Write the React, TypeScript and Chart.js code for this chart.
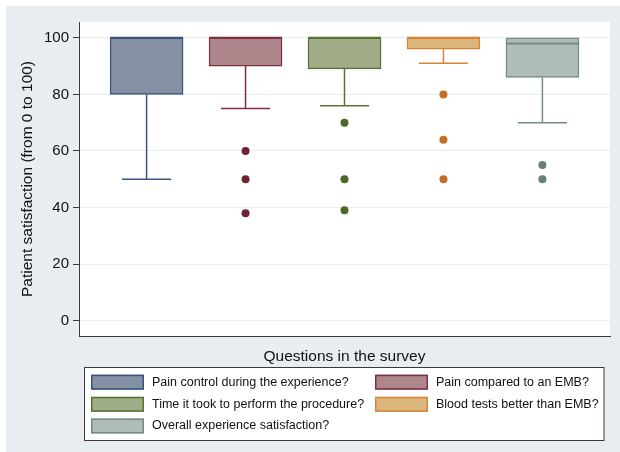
import React, { useEffect, useRef } from "react";
import { Chart, registerables } from "chart.js";

Chart.register(...registerables);

// ---- data ----
const questions = [
  "Pain control during the experience?",
  "Pain compared to an EMB?",
  "Time it took to perform the procedure?",
  "Blood tests better than EMB?",
  "Overall experience satisfaction?",
];
const positions = [1, 2, 3, 4, 5];
const q1Values = [80, 90, 89, 96, 86];
const medianValues = [100, 100, 100, 100, 98];
const q3Values = [100, 100, 100, 100, 100];
const lowerWhiskers = [50, 75, 76, 91, 70];
const outlierValues = [[], [60, 50, 38], [70, 50, 39], [80, 64, 50], [55, 50]];
const yTicks = [0, 20, 40, 60, 80, 100];

// ---- styles ----
const fillColors = ["#8491a4", "#ad878b", "#a1ad88", "#dcb57c", "#b0bcb6"];
const lineColors = ["#3d5080", "#7f3040", "#58742f", "#d98337", "#728d85"];
const dotColors = ["#3d5080", "#6d2331", "#4e6628", "#c76c25", "#667f77"];
const BOX_HALF = 0.369;
const CAP_HALF = 0.248;
const FONT = "'Liberation Sans', Arial, Helvetica, sans-serif";

const bgPlugin = {
  id: "stataBg",
  beforeDraw(chart: any) {
    const { ctx, width, height, chartArea } = chart;
    ctx.save();
    ctx.fillStyle = "#ffffff";
    ctx.fillRect(0, 0, width, height);
    ctx.fillStyle = "#e7edf0";
    ctx.fillRect(6, 6, width - 6, height - 6);
    ctx.fillStyle = "#ffffff";
    ctx.fillRect(chartArea.left, chartArea.top, chartArea.right - chartArea.left, chartArea.bottom - chartArea.top);
    ctx.restore();
  },
};

const legendPlugin = {
  id: "boxLegend",
  afterDraw(chart: any) {
    const { ctx } = chart;
    const items = chart.data.datasets.filter((d: any) => d.type === "bar");
    const box = { x: 84.5, y: 367.5, w: 519.5, h: 73 };
    ctx.save();
    ctx.fillStyle = "#ffffff";
    ctx.fillRect(box.x, box.y, box.w, box.h);
    ctx.strokeStyle = "#3a3a3a";
    ctx.lineWidth = 1;
    ctx.strokeRect(box.x, box.y, box.w, box.h);
    const colX = [91, 375];
    const rowY = [382.2, 404.3, 426];
    ctx.font = `12.5px ${FONT}`;
    ctx.textBaseline = "middle";
    ctx.textAlign = "left";
    items.forEach((d: any, i: number) => {
      const cx = colX[i % 2];
      const cy = rowY[Math.floor(i / 2)];
      ctx.fillStyle = d.backgroundColor;
      ctx.fillRect(cx, cy - 7.5, 53, 15);
      ctx.strokeStyle = d.borderColor;
      ctx.lineWidth = 1.5;
      ctx.strokeRect(cx + 0.75, cy - 6.75, 51.5, 13.5);
      ctx.fillStyle = "#111111";
      ctx.fillText(d.label, cx + 61, cy);
    });
    ctx.restore();
  },
};

export default function App() {
  const ref = useRef<HTMLCanvasElement | null>(null);

  useEffect(() => {
    if (!ref.current) return;
    const datasets: any[] = [];
    positions.forEach((p, i) => {
      datasets.push({
        type: "bar",
        label: questions[i],
        data: [{ x: p, y: [q1Values[i], q3Values[i]] }],
        backgroundColor: fillColors[i],
        borderColor: lineColors[i],
        borderWidth: 1.5,
        borderSkipped: false,
        barThickness: 73,
        grouped: false,
        order: 3,
      });
    });
    positions.forEach((p, i) => {
      const common = {
        type: "line",
        borderColor: lineColors[i],
        borderWidth: 1.5,
        pointRadius: 0,
        fill: false,
        order: 2,
      };
      datasets.push({
        ...common,
        label: "whisker",
        data: [
          { x: p, y: q1Values[i] },
          { x: p, y: lowerWhiskers[i] },
        ],
      });
      datasets.push({
        ...common,
        label: "cap",
        data: [
          { x: p - CAP_HALF, y: lowerWhiskers[i] },
          { x: p + CAP_HALF, y: lowerWhiskers[i] },
        ],
      });
      datasets.push({
        ...common,
        label: "median",
        borderWidth: 2,
        data: [
          { x: p - BOX_HALF, y: medianValues[i] },
          { x: p + BOX_HALF, y: medianValues[i] },
        ],
      });
      datasets.push({
        type: "scatter",
        label: "outliers",
        data: outlierValues[i].map((v) => ({ x: p, y: v })),
        backgroundColor: dotColors[i],
        borderColor: dotColors[i],
        borderWidth: 0,
        pointRadius: 4,
        order: 1,
      });
    });

    const chart = new Chart(ref.current, {
      type: "bar",
      data: { datasets },
      plugins: [bgPlugin, legendPlugin],
      options: {
        animation: false,
        responsive: false,
        devicePixelRatio: 1,
        layout: { padding: { left: 6, right: 10, top: 22, bottom: 86 } },
        plugins: { legend: { display: false }, tooltip: { enabled: false } },
        scales: {
          x: {
            type: "linear",
            min: 0.317,
            max: 5.683,
            offset: false,
            grid: { display: false },
            ticks: { display: false },
            border: { display: true, color: "#3a3a3a", width: 1 },
            title: {
              display: true,
              text: "Questions in the survey",
              color: "#111111",
              font: { family: FONT, size: 15.5 },
              padding: { top: 0, bottom: 0 },
            },
            afterFit: (s: any) => {
              s.height = 30;
            },
          },
          y: {
            type: "linear",
            min: -5.45,
            max: 105.6,
            afterBuildTicks: (s: any) => {
              s.ticks = yTicks.map((v) => ({ value: v }));
            },
            afterFit: (s: any) => {
              s.width = 73;
            },
            grid: {
              color: "#e6edf2",
              lineWidth: 1,
              tickLength: 6,
              tickColor: "#3a3a3a",
            },
            border: { display: true, color: "#3a3a3a", width: 1 },
            ticks: {
              color: "#111111",
              padding: 4,
              font: { family: FONT, size: 15 },
            },
            title: {
              display: true,
              text: "Patient satisfaction (from 0 to 100)",
              color: "#111111",
              font: { family: FONT, size: 15.5 },
              padding: { top: 12, bottom: 0 },
            },
          },
        },
      } as any,
    } as any);
    return () => chart.destroy();
  }, []);

  return (
    <div style={{ position: "fixed", left: 0, top: 0, width: 620, height: 452 }}>
      <canvas ref={ref} width={620} height={452} style={{ width: 620, height: 452, display: "block" }} />
    </div>
  );
}
